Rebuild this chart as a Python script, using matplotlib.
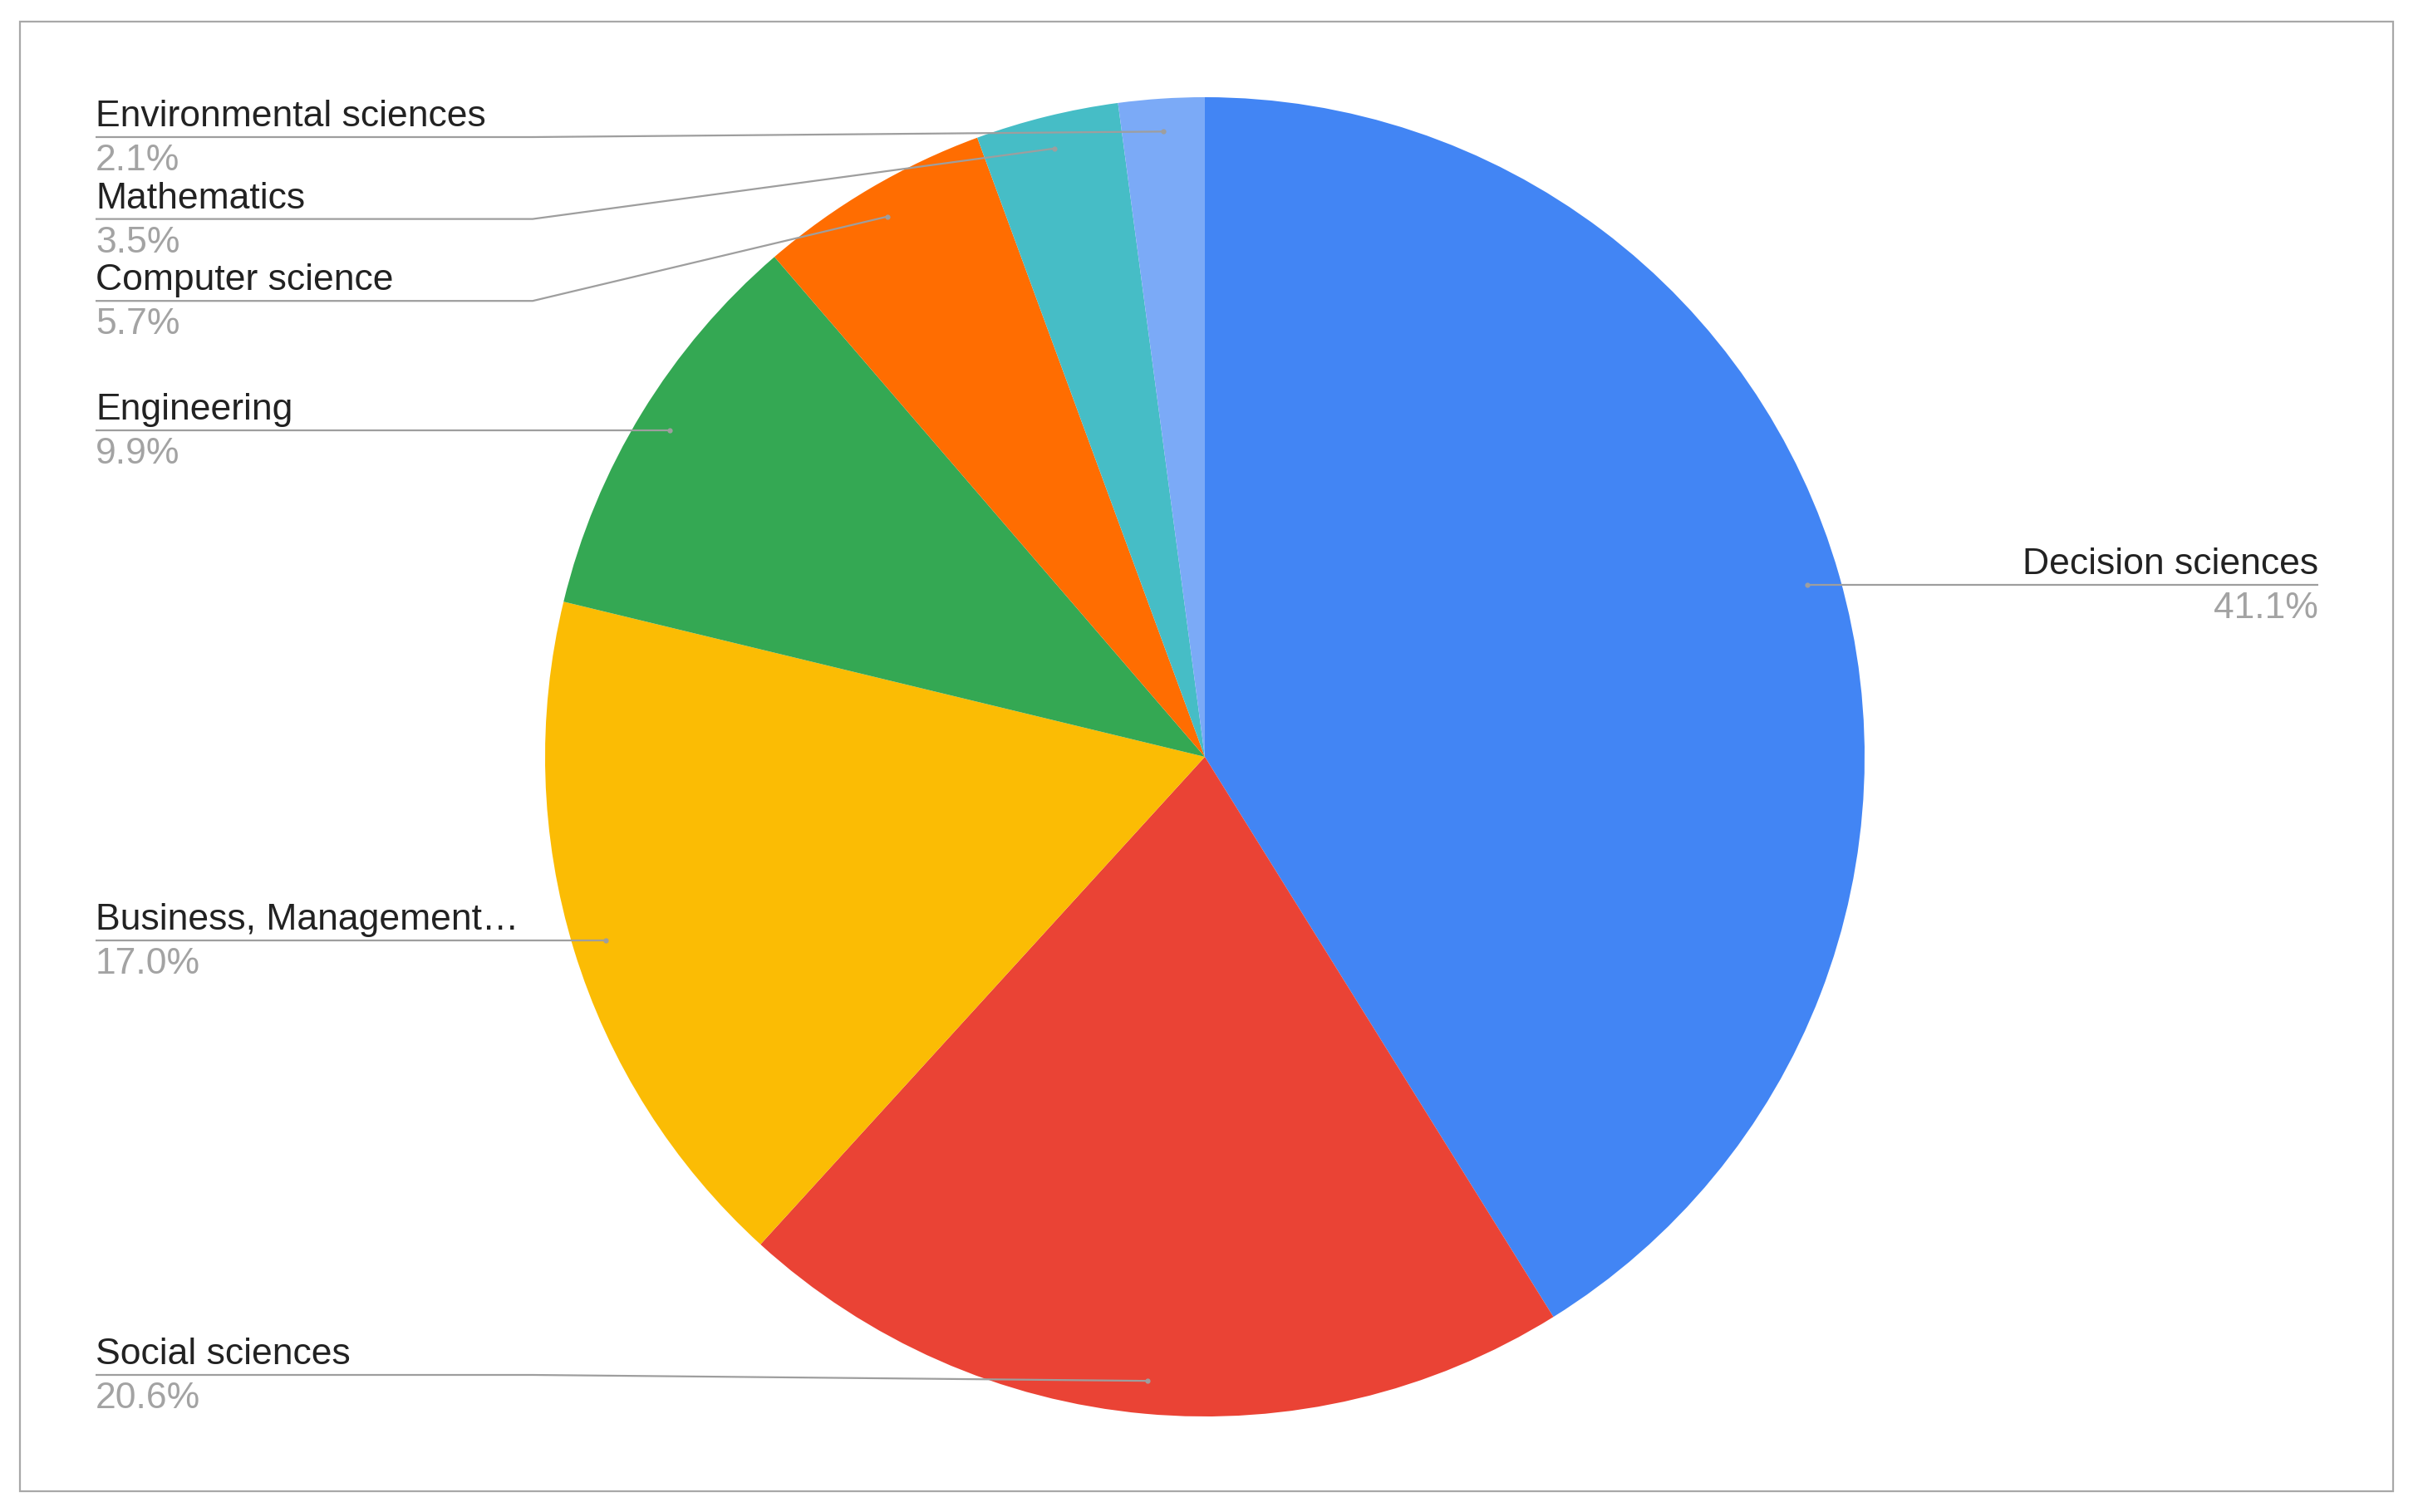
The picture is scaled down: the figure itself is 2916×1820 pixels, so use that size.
import numpy as np
import matplotlib.pyplot as plt
from matplotlib import patches

plt.rcParams['font.family'] = ['Liberation Sans', 'DejaVu Sans']

# data: slices clockwise from 12 o'clock
categories = ["Decision sciences", "Social sciences", "Business, Management\u2026",
              "Engineering", "Computer science", "Mathematics", "Environmental sciences"]
shares = [41.1, 20.6, 17.0, 9.9, 5.7, 3.5, 2.1]
colors = ["#4285F4", "#EA4335", "#FBBC04", "#34A853", "#FF6D01", "#46BDC6", "#7BAAF7"]

W, H = 2916, 1820
fig = plt.figure(figsize=(W / 100, H / 100), dpi=100)
ax = fig.add_axes([0, 0, 1, 1])

cx, cy, R = 1450, 909, 794
wedges, _ = ax.pie(shares, colors=colors, startangle=90, counterclock=False,
                   center=(cx, cy), radius=R, wedgeprops=dict(linewidth=0))
ax.set_xlim(0, W)
ax.set_ylim(0, H)
ax.set_aspect('equal')
ax.axis('off')

# border of the chart box
ax.add_patch(patches.Rectangle((24, 25), 2856, 1769, fill=False,
                               ec="#a8a8a8", lw=1.6, zorder=0))

line_c = "#9e9e9e"
name_c = "#222222"
pct_c = "#a3a3a3"
fs = 32

# anchor dots at 95% radius on the middle angle of each slice
dots = []
for w in wedges:
    mid = np.deg2rad((w.theta1 + w.theta2) / 2)
    dots.append((cx + 0.95 * R * np.cos(mid), cy + 0.95 * R * np.sin(mid)))

# left side labels: stack from top so they don't collide
left = [i for i, d in enumerate(dots) if d[0] < cx]
left.sort(key=lambda i: -dots[i][1])
label_y = {}
prev = None
for i in left:
    y_img = H - dots[i][1]
    y_img = max(y_img, 165)
    if prev is not None:
        y_img = max(y_img, prev + 98.6)
    y_img = min(y_img, 1655)
    label_y[i] = H - y_img
    prev = y_img
for i, d in enumerate(dots):
    if i not in label_y:
        label_y[i] = d[1]

for i, (dx, dy) in enumerate(dots):
    ly = label_y[i]
    pct = f"{shares[i]:.1f}%"
    if dx < cx:
        xs, ys = [115, 641, dx], [ly, ly, dy]
        tx, ha = 115, "left"
    else:
        xs, ys = [dx, 2275, 2790], [dy, ly, ly]
        tx, ha = 2790, "right"
    ax.plot(xs, ys, color=line_c, lw=1.6, solid_capstyle="butt", zorder=3)
    ax.plot([dx], [dy], "o", ms=4.5, color=line_c, mec="none", zorder=4)
    ax.text(tx, ly + 13, categories[i], ha=ha, va="baseline", fontsize=fs, color=name_c)
    ax.text(tx, ly - 40, pct, ha=ha, va="baseline", fontsize=fs, color=pct_c)

fig.savefig("out.png", dpi=100, facecolor="white")
